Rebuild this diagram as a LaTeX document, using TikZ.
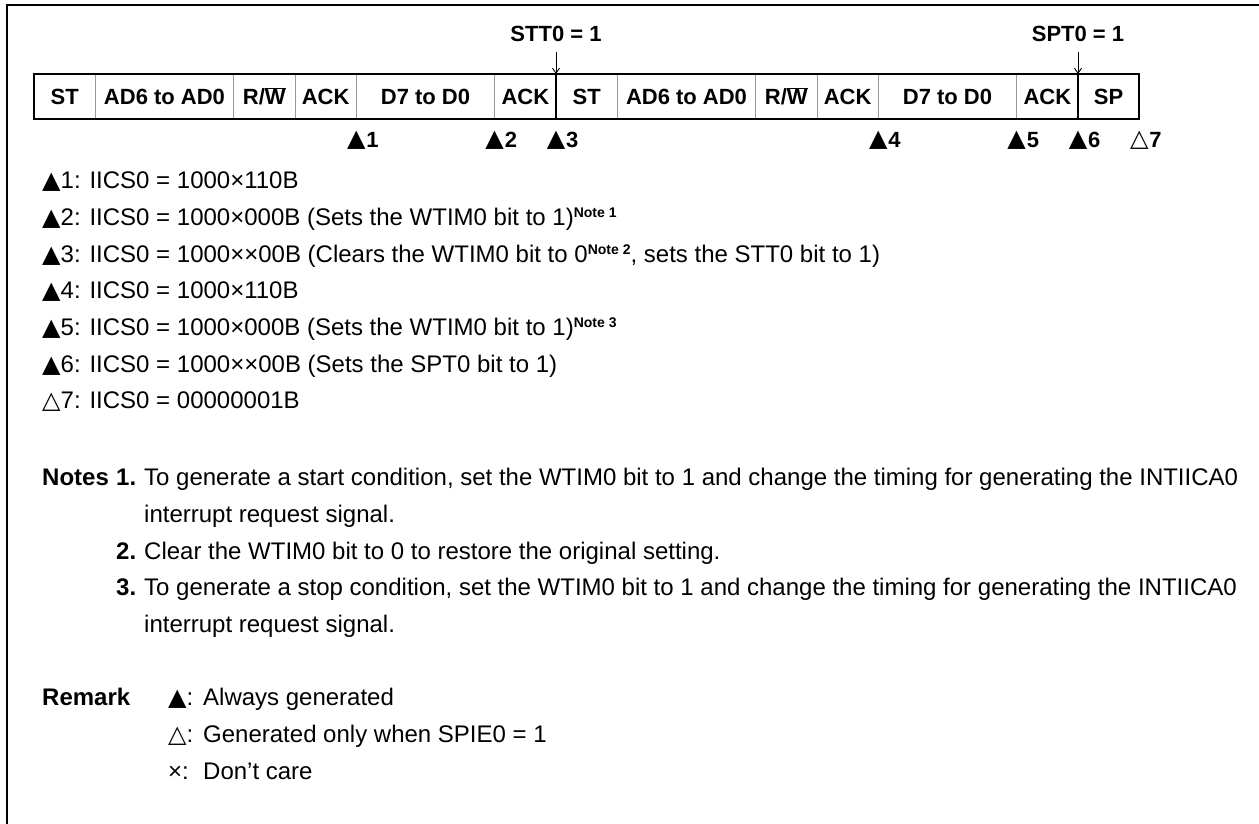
\documentclass[tikz,border=0pt]{standalone}
\usepackage{fontspec}
\setmainfont{Liberation Sans}
\newfontfamily\glyphfont{DejaVu Sans}
\usetikzlibrary{arrows.meta,positioning}

\newcommand{\trifill}{{\glyphfont\fontsize{24}{24}\selectfont ▲}}
\newcommand{\triopen}{{\glyphfont\fontsize{24}{24}\selectfont △}}
\newcommand{\notemark}[1]{\raisebox{7.5pt}{\bfseries\fontsize{14}{14}\selectfont Note #1}}

\begin{document}
\begin{tikzpicture}[
  x=1pt,y=-1pt,
  font=\fontsize{24}{28}\selectfont,
  >={Straight Barb[length=5pt,width=7pt]},
  slot/.style={draw=gray!80,line width=1pt,minimum height=45pt,inner sep=0pt,outer sep=0pt,
    font=\bfseries\fontsize{22}{26}\selectfont},
  narrowslot/.style={slot,minimum width=61.3pt},
  wideslot/.style={slot,minimum width=138.4pt},
  head/.style={inner sep=0pt,font=\bfseries\fontsize{22}{26}\selectfont},
  tri/.style={inner sep=0pt},
  num/.style={inner sep=0pt,font=\bfseries\fontsize{22}{26}\selectfont},
  txt/.style={anchor=base west,inner sep=0pt},
  bold/.style={txt,font=\bfseries\fontsize{24}{28}\selectfont},
  sig/.style={->,line width=0.9pt}
]
\useasboundingbox (0,0) rectangle (1259,824);

% ---- frame ----
\draw[line width=2.5pt] (1259,5) -- (7,5) -- (7,824);

% ---- transfer sequence ----
\node[narrowslot] (st1) at (64.65,96.5) {ST};
\node[wideslot,right=0pt of st1] (ad1) {AD6 to AD0};
\node[narrowslot,right=0pt of ad1] (rw1) {R/$\overline{\hbox{W}}$};
\node[narrowslot,right=0pt of rw1] (ack1) {ACK};
\node[wideslot,right=0pt of ack1] (d1) {D7 to D0};
\node[narrowslot,right=0pt of d1] (ack2) {ACK};
\node[narrowslot,right=0pt of ack2] (st2) {ST};
\node[wideslot,right=0pt of st2] (ad2) {AD6 to AD0};
\node[narrowslot,right=0pt of ad2] (rw2) {R/$\overline{\hbox{W}}$};
\node[narrowslot,right=0pt of rw2] (ack3) {ACK};
\node[wideslot,right=0pt of ack3] (d2) {D7 to D0};
\node[narrowslot,right=0pt of d2] (ack4) {ACK};
\node[narrowslot,right=0pt of ack4] (sp) {SP};
\draw[line width=2pt] (st1.north west) rectangle (sp.south east);
\draw[line width=1.2pt] (ack2.north east) -- (ack2.south east);
\draw[line width=1.2pt] (ack4.north east) -- (ack4.south east);

% ---- start / stop requests ----
\node[head,above=32pt of ack2.north east] (stt) {STT0 = 1};
\node[head,above=32pt of ack4.north east] (spt) {SPT0 = 1};
\draw[sig] ([yshift=-10pt]stt.south) -- (ack2.north east);
\draw[sig] ([yshift=-10pt]spt.south) -- (ack4.north east);

% ---- interrupt points ----
\foreach \c/\n/\g in {ack1/1/\trifill,d1/2/\trifill,ack2/3/\trifill,ack3/4/\trifill,
                      d2/5/\trifill,ack4/6/\trifill,sp/7/\triopen} {
  \node[tri] (m\n) at ([yshift=-21pt]\c.south east) {\g};
  \node[num,right=0.5pt of m\n] (n\n) {\n};
}

% ---- register values ----
\node[txt] (l1) at (42,188.6) {\trifill1: IICS0 = 1000×110B};
\node[txt] (l2) at (42,225.3) {\trifill2: IICS0 = 1000×000B (Sets the WTIM0 bit to 1)\notemark{1}};
\node[txt] (l3) at (42,262.0) {\trifill3: IICS0 = 1000××00B (Clears the WTIM0 bit to 0\notemark{2}, sets the STT0 bit to 1)};
\node[txt] (l4) at (42,298.7) {\trifill4: IICS0 = 1000×110B};
\node[txt] (l5) at (42,335.4) {\trifill5: IICS0 = 1000×000B (Sets the WTIM0 bit to 1)\notemark{3}};
\node[txt] (l6) at (42,372.1) {\trifill6: IICS0 = 1000××00B (Sets the SPT0 bit to 1)};
\node[txt] (l7) at (42,408.8) {\triopen7: IICS0 = 00000001B};

% ---- notes ----
\node[bold] (notes) at (42,485.6) {Notes};
\node[bold] (k1) at (116,485.6) {1.};
\node[txt] (t1) at (144,485.6) {To generate a start condition, set the WTIM0 bit to 1 and change the timing for generating the INTIICA0};
\node[txt] (t1b) at (144,522.3) {interrupt request signal.};
\node[bold] (k2) at (116,559.0) {2.};
\node[txt] (t2) at (144,559.0) {Clear the WTIM0 bit to 0 to restore the original setting.};
\node[bold] (k3) at (116,595.7) {3.};
\node[txt] (t3) at (144,595.7) {To generate a stop condition, set the WTIM0 bit to 1 and change the timing for generating the INTIICA0};
\node[txt] (t3b) at (144,632.4) {interrupt request signal.};

% ---- remark ----
\node[bold] (remark) at (42,705.6) {Remark};
\node[txt] (s1) at (168,705.6) {\trifill:};
\node[txt] (r1) at (203,705.6) {Always generated};
\node[txt] (s2) at (168,742.3) {\triopen:};
\node[txt] (r2) at (203,742.3) {Generated only when SPIE0 = 1};
\node[txt] (s3) at (168,779.0) {×:};
\node[txt] (r3) at (203,779.0) {Don’t care};

\end{tikzpicture}
\end{document}
